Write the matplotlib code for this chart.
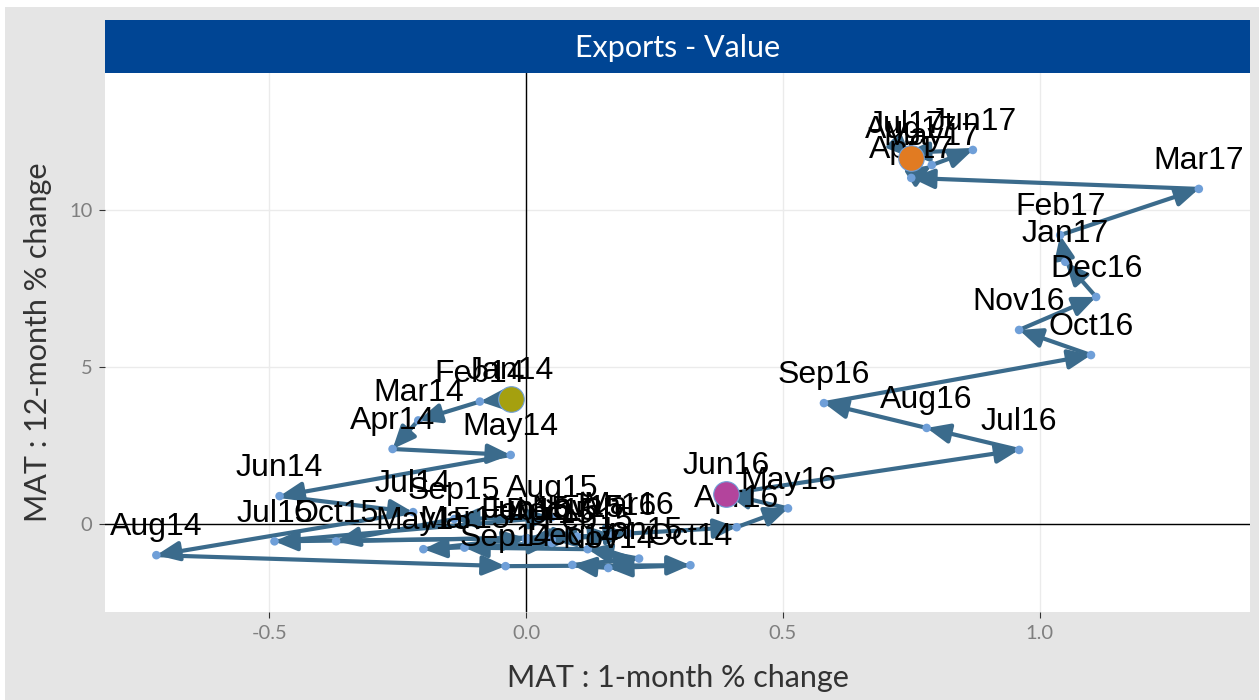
import numpy as np
import matplotlib.pyplot as plt
from matplotlib.patches import Rectangle

# Monthly path of MAT changes for exports value
months = ["Jan14", "Feb14", "Mar14", "Apr14", "May14", "Jun14", "Jul14", "Aug14",
          "Sep14", "Oct14", "Nov14", "Dec14",
          "Jan15", "Feb15", "Mar15", "Apr15", "May15", "Jun15", "Jul15", "Aug15",
          "Sep15", "Oct15", "Nov15", "Dec15",
          "Jan16", "Feb16", "Mar16", "Apr16", "May16", "Jun16", "Jul16", "Aug16",
          "Sep16", "Oct16", "Nov16", "Dec16",
          "Jan17", "Feb17", "Mar17", "Apr17", "May17", "Jun17", "Jul17", "Aug17"]

mat_1m = [-0.03, -0.09, -0.21, -0.26, -0.03, -0.48, -0.22, -0.72,
          -0.04, 0.32, 0.16, 0.09,
          0.22, 0.12, -0.12, 0.05, -0.20, 0.00, -0.49, 0.05,
          -0.14, -0.37, 0.10, 0.05,
          0.17, 0.00, 0.20, 0.41, 0.51, 0.39, 0.96, 0.78,
          0.58, 1.10, 0.96, 1.11,
          1.05, 1.04, 1.31, 0.75, 0.79, 0.87, 0.74, 0.75]

mat_12m = [3.98, 3.90, 3.30, 2.39, 2.20, 0.89, 0.38, -0.99,
           -1.34, -1.31, -1.40, -1.30,
           -1.10, -0.80, -0.75, -0.60, -0.80, -0.45, -0.55, 0.22,
           0.16, -0.55, -0.40, -0.50,
           -0.35, -0.50, -0.30, -0.10, 0.50, 0.96, 2.36, 3.06,
           3.85, 5.38, 6.18, 7.23,
           8.35, 9.20, 10.67, 11.02, 11.43, 11.91, 11.82, 11.66]

highlight = {"Jan14": "#a5a00f", "Jun16": "#b3449c", "Aug17": "#e17b22"}

x_ticks = [-0.5, 0.0, 0.5, 1.0]
y_ticks = [0, 5, 10]

fig = plt.figure(figsize=(12.59, 7.0), dpi=100)
fig.patch.set_facecolor("white")

# grey plot background
fig.add_artist(Rectangle((0.004, 0.0), 0.996, 0.99, transform=fig.transFigure,
                         facecolor="#e5e5e5", edgecolor="none", zorder=0))

ax = fig.add_axes([0.0834, 0.1257, 0.9096, 0.77])
ax.set_facecolor("white")
ax.set_xlim(-0.82, 1.41)
ax.set_ylim(-2.8, 14.36)

ax.set_xticks(x_ticks)
ax.set_yticks(y_ticks)
ax.set_xticklabels(["-0.5", "0.0", "0.5", "1.0"])
ax.grid(True, color="#ebebeb", linewidth=1.0, zorder=0)
ax.set_axisbelow(True)
for s in ax.spines.values():
    s.set_visible(False)
ax.tick_params(length=4, width=0.8, color="#333333", labelcolor="#7f7f7f",
               labelsize=14.5, pad=5)
for lab in ax.get_xticklabels() + ax.get_yticklabels():
    lab.set_family("Lato")

ax.axhline(0, color="black", linewidth=1.0, zorder=1)
ax.axvline(0, color="black", linewidth=1.0, zorder=1)

# arrows between consecutive months
for i in range(len(months) - 1):
    ax.annotate("", xy=(mat_1m[i + 1], mat_12m[i + 1]), xytext=(mat_1m[i], mat_12m[i]),
                arrowprops=dict(arrowstyle="-|>,head_length=0.65,head_width=0.28",
                                color="#3b6b8c", lw=3.0, shrinkA=0, shrinkB=0,
                                mutation_scale=21),
                zorder=2)

ax.scatter(mat_1m, mat_12m, s=38, color="#6f9fd8", edgecolor="none", zorder=3)

for m, xv, yv in zip(months, mat_1m, mat_12m):
    ax.annotate(m, (xv, yv), xytext=(0, 20), textcoords="offset points",
                ha="center", va="center", fontsize=23, family="Liberation Sans",
                color="black", zorder=4)

for m, c in highlight.items():
    i = months.index(m)
    ax.scatter([mat_1m[i]], [mat_12m[i]], s=340, color=c, edgecolor="#6f9fd8",
               linewidth=0.8, zorder=5)

ax.set_xlabel("MAT : 1-month % change", family="Lato", fontsize=22,
              color="#333333", labelpad=16)
ax.set_ylabel("MAT : 12-month % change", family="Lato", fontsize=22,
              color="#333333", labelpad=12)

# facet strip
strip = fig.add_axes([0.0834, 0.8957, 0.9096, 0.0757])
strip.set_facecolor("#004594")
strip.set_xticks([])
strip.set_yticks([])
for s in strip.spines.values():
    s.set_visible(False)
strip.text(0.5, 0.48, "Exports - Value", ha="center", va="center", color="white",
           fontsize=22, family="Lato", transform=strip.transAxes)

fig.savefig("out.png", dpi=100, facecolor="white")
